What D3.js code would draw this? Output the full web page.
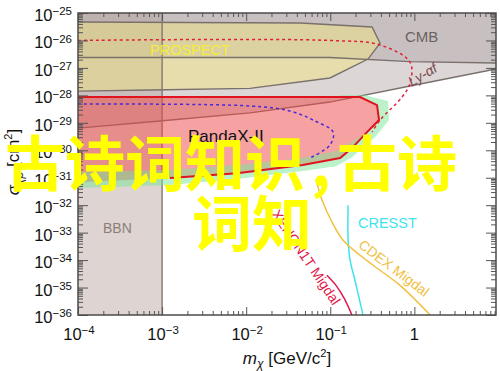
<!DOCTYPE html>
<html>
<head>
<meta charset="utf-8">
<script src="https://cdn.jsdelivr.net/npm/d3@7"></script>
<style>
  html, body { margin: 0; padding: 0; background: #fff; }
  svg { display: block; font-family: "Liberation Sans", Arial, sans-serif; }
</style>
</head>
<body>
<svg id="chart"></svg>
<script>
// masses in GeV/c^2, cross sections in cm^2
const bbnMass = [1e-4, 1e-3];

const cmbMass  = [1e-4, 0.099, 0.889, 9.35];
const cmbSigma = [2.4e-27, 2.4e-27, 1.7e-27, 1.5e-27];

const lyaMass  = [1e-4, 9.4e-4, 1.11e-2, 0.099, 0.889, 9.35];
const lyaSigma = [6.4e-30, 1.16e-29, 2.3e-29, 5.7e-29, 2.2e-28, 9.1e-28];

const prospectMass  = [1e-4, 4.4e-2, 0.314, 0.391, 0.281, 0.099, 1.11e-2, 7.2e-4, 1e-4];
const prospectSigma = [4.7e-26, 4.3e-26, 3.1e-26, 8.0e-27, 2.1e-27, 4.3e-28, 1.8e-28, 1.56e-28, 1.43e-28];

const pandaMass  = [1e-4, 0.226, 0.360, 0.380, 0.281, 0.181, 0.131, 4.7e-2, 7.8e-3, 1.24e-3, 1e-4];
const pandaSigma = [8.7e-29, 8.7e-29, 4.4e-29, 1.26e-29, 5.0e-30, 1.2e-30, 5.2e-31, 2.9e-31, 1.47e-31, 9.7e-32, 6.9e-32];

// green band hugging the PandaX-II contour
const bandMass  = [0.131, 0.259, 0.486, 0.500, 0.350, 0.181, 0.117, 4.7e-2, 7.8e-3, 1.24e-3, 1e-4,
                   1e-4, 1.24e-3, 7.8e-3, 4.7e-2, 0.131, 0.281, 0.380, 0.360, 0.226, 0.131];
const bandSigma = [1.0e-28, 1.0e-28, 6.2e-29, 1.26e-29, 3.3e-30, 5.6e-31, 2.6e-31, 1.74e-31, 8.9e-32, 5.4e-32, 4.2e-32,
                   1.6e-31, 1.9e-31, 2.9e-31, 5.2e-31, 1.0e-30, 5.0e-30, 1.26e-29, 4.4e-29, 8.7e-29, 8.7e-29];

const redDashMass  = [1e-4, 0.099, 0.391, 0.889, 0.889, 0.714, 0.391, 0.314];
const redDashSigma = [1e-26, 1e-26, 6.8e-27, 1.6e-27, 2.8e-28, 8.7e-29, 1.26e-29, 4.6e-30];

const blueDashMass  = [1e-4, 1.11e-2, 3.3e-2, 6.6e-2, 0.108, 0.099, 5.7e-2];
const blueDashSigma = [4.8e-29, 4.1e-29, 2.7e-29, 1.16e-29, 4.6e-30, 1.54e-30, 5.2e-31];

const xenonMass  = [0.091, 0.117, 0.146, 0.181];
const xenonSigma = [2.8e-35, 1.2e-35, 4.1e-36, 1e-36];

const cresstMass  = [0.163, 0.163, 0.172, 0.197, 0.245];
const cresstSigma = [1e-32, 5.3e-34, 1e-34, 1.8e-35, 1e-36];

const cdexMass  = [6.8e-2, 0.080, 0.105, 0.142, 0.226, 0.323, 0.676, 1.54];
const cdexSigma = [8.2e-32, 1.52e-32, 2.4e-33, 5.3e-34, 1.5e-34, 6.5e-35, 1.2e-35, 1e-36];

const xExponents = [-4, -3, -2, -1, 0];
const yExponents = [-36, -35, -34, -33, -32, -31, -30, -29, -28, -27, -26, -25];

const width = 500, height = 371;
const margin = {top: 13, right: 4, bottom: 56, left: 78};
const W = width - margin.left - margin.right,
      H = height - margin.top - margin.bottom;

const xMin = 1e-4, xMax = 9.35, yMin = 1e-36, yMax = 1e-25;

const svg = d3.select("#chart")
    .attr("width", width)
    .attr("height", height);

const g = svg.append("g")
    .attr("transform", `translate(${margin.left},${margin.top})`);

const x = d3.scaleLog().domain([xMin, xMax]).range([0, W]);
const y = d3.scaleLog().domain([yMin, yMax]).range([H, 0]);

const zip = (a, b) => a.map((v, i) => [v, b[i]]);

svg.append("defs").append("clipPath").attr("id", "plotClip")
  .append("rect").attr("width", W).attr("height", H);

const plot = g.append("g").attr("clip-path", "url(#plotClip)");

const poly = d3.line().x(d => x(d[0])).y(d => y(d[1]));
const smooth = d3.line().x(d => x(d[0])).y(d => y(d[1])).curve(d3.curveCatmullRom.alpha(0.5));

// excluded regions that reach up to the top edge
function above(mass, sigma) {
  return zip(mass, sigma).concat([[xMax, yMax * 2], [xMin, yMax * 2]]);
}

const edge = "#7a706c";

// BBN
plot.append("path")
  .attr("d", poly([[bbnMass[0], yMin / 2], [bbnMass[1], yMin / 2], [bbnMass[1], yMax * 2], [bbnMass[0], yMax * 2]]) + "Z")
  .attr("fill", "rgba(190,170,165,0.5)");

// Ly-alpha forest
plot.append("path").attr("d", poly(above(lyaMass, lyaSigma)) + "Z")
  .attr("fill", "rgba(180,165,165,0.45)");

// CMB
plot.append("path").attr("d", poly(above(cmbMass, cmbSigma)) + "Z")
  .attr("fill", "rgba(170,160,160,0.4)");

// PROSPECT
plot.append("path").attr("d", poly(zip(prospectMass, prospectSigma)) + "Z")
  .attr("fill", "rgba(245,230,122,0.45)");

// boundary lines
[[lyaMass, lyaSigma], [cmbMass, cmbSigma]].forEach(([m, s]) => {
  plot.append("path").attr("d", poly(zip(m, s)))
    .attr("fill", "none").attr("stroke", edge).attr("stroke-width", 1.4);
});
plot.append("path").attr("d", poly(zip(prospectMass, prospectSigma)))
  .attr("fill", "none").attr("stroke", edge).attr("stroke-width", 1.4);
plot.append("line")
  .attr("x1", x(bbnMass[1])).attr("x2", x(bbnMass[1]))
  .attr("y1", 0).attr("y2", H)
  .attr("stroke", "#85766f").attr("stroke-width", 1.4);

// PandaX-II
plot.append("path").attr("d", poly(zip(pandaMass, pandaSigma)) + "Z")
  .attr("fill", "rgba(240,70,70,0.5)");
plot.append("path").attr("d", poly(zip(bandMass, bandSigma)) + "Z")
  .attr("fill", "rgba(120,230,150,0.5)");
plot.append("path").attr("d", poly(zip(pandaMass, pandaSigma).slice(0, -1)))
  .attr("fill", "none").attr("stroke", "#e0141e").attr("stroke-width", 2);

// dashed projections
plot.append("path").attr("d", smooth(zip(redDashMass, redDashSigma)))
  .attr("fill", "none").attr("stroke", "#e0203a").attr("stroke-width", 1.5)
  .attr("stroke-dasharray", "3,3");
plot.append("path").attr("d", smooth(zip(blueDashMass, blueDashSigma)))
  .attr("fill", "none").attr("stroke", "#4a2ad8").attr("stroke-width", 1.5)
  .attr("stroke-dasharray", "3,3");

// direct detection curves
plot.append("path").attr("d", smooth(zip(xenonMass, xenonSigma)))
  .attr("fill", "none").attr("stroke", "#e4174a").attr("stroke-width", 1.5);
plot.append("path").attr("d", smooth(zip(cresstMass, cresstSigma)))
  .attr("fill", "none").attr("stroke", "#3ee4ec").attr("stroke-width", 1.5);
plot.append("path").attr("d", smooth(zip(cdexMass, cdexSigma)))
  .attr("fill", "none").attr("stroke", "#f0c040").attr("stroke-width", 1.5);

// region labels
function label(txt, px, py, size, color, rot, anchor, italic) {
  g.append("text")
    .attr("transform", `translate(${px},${py}) rotate(${rot || 0})`)
    .attr("text-anchor", anchor || "start")
    .style("font-size", size + "px")
    .style("font-style", italic ? "italic" : "normal")
    .attr("fill", color)
    .text(txt);
}
label("PROSPECT", 72, 42, 14.5, "#f4ee38");
label("CMB", 327, 29, 15, "#6a6262");
label("BBN", 25, 220, 14, "#8d7f78");
label("PandaX-II", 110, 129, 17, "#111");
label("CRESST", 280, 215, 14.5, "#3ee4ec");
label("CDEX Migdal", 313, 259, 14, "#f0c040", 37, "middle");
label("XENON1T Migdal", 224, 247, 14, "#e4174a", 56, "middle");
label("Ly-\u03b1f", 347, 66, 14, "#7a4a52", -31, "middle", true);

// ticks, all pointing inward
const minor = (exps, lim) => exps.flatMap(e => d3.range(2, 10).map(k => k * Math.pow(10, e))).filter(v => v <= lim);
const xMajor = xExponents.map(e => Math.pow(10, e));
const xMinor = minor(xExponents, xMax);
const yMajor = yExponents.map(e => Math.pow(10, e));
const yMinor = minor(yExponents.slice(0, -1), yMax);

function ticks(axis, vals, size, tr) {
  g.append("g").attr("transform", tr)
    .call(axis.tickValues(vals).tickSize(size).tickFormat(""))
    .call(s => s.select(".domain").remove())
    .selectAll("line").attr("stroke", "#555").attr("stroke-width", 1);
}
ticks(d3.axisBottom(x), xMajor, -8, `translate(0,${H})`);
ticks(d3.axisBottom(x), xMinor, -4, `translate(0,${H})`);
ticks(d3.axisTop(x), xMajor, -8, "translate(0,0)");
ticks(d3.axisTop(x), xMinor, -4, "translate(0,0)");
ticks(d3.axisLeft(y), yMajor, -10, "translate(0,0)");
ticks(d3.axisLeft(y), yMinor, -5, "translate(0,0)");
ticks(d3.axisRight(y), yMajor, -10, `translate(${W},0)`);
ticks(d3.axisRight(y), yMinor, -5, `translate(${W},0)`);

g.append("rect").attr("width", W).attr("height", H)
  .attr("fill", "none").attr("stroke", "#4d4a4a").attr("stroke-width", 1.5);

// tick labels
function powerLabel(sel, e) {
  if (e === 0) { sel.append("tspan").text("1"); return; }
  sel.append("tspan").text("10");
  sel.append("tspan").attr("dy", "-0.5em").style("font-size", "11.5px").text("\u2212" + Math.abs(e));
}
xExponents.forEach(e => {
  const t = g.append("text")
    .attr("x", x(Math.pow(10, e)) + (e === 0 ? 0 : 1))
    .attr("y", H + 25)
    .attr("text-anchor", "middle")
    .style("font-size", "16.5px").attr("fill", "#111");
  powerLabel(t, e);
});
yExponents.forEach(e => {
  const t = g.append("text")
    .attr("x", -6)
    .attr("y", y(Math.pow(10, e)) + 8)
    .attr("text-anchor", "end")
    .style("font-size", "16.5px").attr("fill", "#111");
  powerLabel(t, e);
});

// axis titles
const xt = svg.append("text")
  .attr("x", 287).attr("y", 364)
  .attr("text-anchor", "middle")
  .style("font-size", "17px").attr("fill", "#111");
xt.append("tspan").style("font-style", "italic").text("m");
xt.append("tspan").attr("dy", 4).style("font-size", "12px").style("font-style", "italic").text("\u03c7");
xt.append("tspan").attr("dy", -4).text(" [GeV/c");
xt.append("tspan").attr("dy", -7).style("font-size", "11px").text("2");
xt.append("tspan").attr("dy", 7).text("]");

const yt = svg.append("text")
  .attr("transform", "translate(19,162) rotate(-90)")
  .attr("text-anchor", "middle")
  .style("font-size", "17px").attr("fill", "#111");
yt.append("tspan").style("font-style", "italic").text("\u03c3");
yt.append("tspan").attr("dy", 4).style("font-size", "12px").style("font-style", "italic").text("\u03c7p");
yt.append("tspan").attr("dy", -4).text(" [cm");
yt.append("tspan").attr("dy", -7).style("font-size", "11px").text("2");
yt.append("tspan").attr("dy", 7).text("]");

// overlay caption
const cjk = (txt, px, py) => svg.append("text")
  .attr("x", px).attr("y", py)
  .style("font-family", '"Noto Sans CJK SC", sans-serif')
  .style("font-weight", "bold")
  .style("font-size", "60px")
  .attr("fill", "#ffff00")
  .text(txt);
cjk("古诗词知识", 5, 186);
cjk(",", 311, 186);
cjk("古诗", 337, 186);
cjk("词知", 192, 246);
</script>
</body>
</html>
